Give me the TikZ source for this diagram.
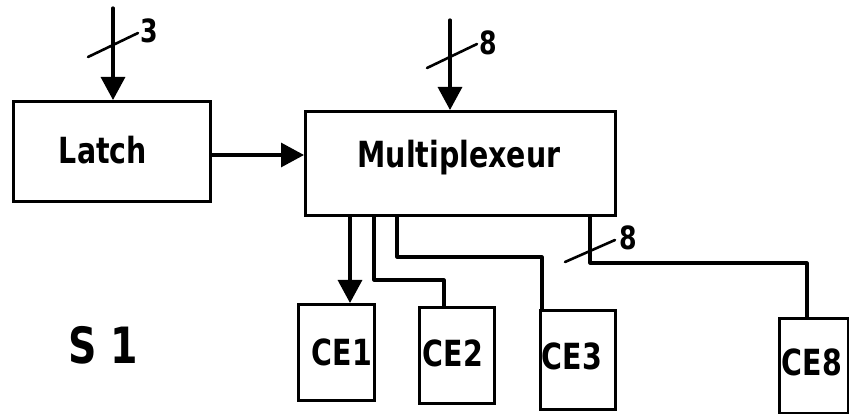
\documentclass[tikz,border=0pt]{standalone}
\usepackage{fontspec}
\newfontfamily\lbl[FakeStretch=0.79]{DejaVu Sans}
\usetikzlibrary{arrows.meta}
\begin{document}
\begin{tikzpicture}[x=1pt,y=-1pt,
  wire/.style={line width=3.2pt, line cap=round, line join=round},
  arr/.style={wire, -{Triangle[length=23pt,width=24pt]}},
  blk/.style={draw, line width=3.2pt, inner sep=0pt, anchor=north west},
  txt/.style={font=\lbl\bfseries\fontsize{36}{36}\selectfont, inner sep=0pt},
  num/.style={font=\lbl\bfseries\fontsize{32}{32}\selectfont, inner sep=0pt},
  busmark/.style={line width=2.6pt, line cap=round}]
\useasboundingbox (0,0) rectangle (849,414);
% blocks
\node[blk, minimum width=197pt, minimum height=100pt] (latch) at (12,100) {};
\node[blk, minimum width=310pt, minimum height=104pt] (mux) at (304,110) {};
\node[blk, minimum width=76pt, minimum height=96pt] (ce1) at (297,303) {};
\node[blk, minimum width=75pt, minimum height=96pt] (ce2) at (418,306) {};
\node[blk, minimum width=75pt, minimum height=99pt] (ce3) at (539,309) {};
\node[blk, minimum width=69pt, minimum height=95pt] (ce8) at (778,317) {};
% texts
\node[txt] (tlatch) at (103,150) {Latch};
\node[txt] (tmux) at (459,158) {Multiplexeur};
\node[txt] (t1) at (342,352) {CE1};
\node[txt] (t2) at (453,353) {CE2};
\node[txt] (t3) at (572,356) {CE3};
\node[txt] (t8) at (812,362) {CE8};
\node[txt, font=\lbl\bfseries\fontsize{50}{50}\selectfont] (s1) at (103,345) {S 1};
% inputs
\coordinate (in3) at (113,8);
\draw[arr] (in3) -- (in3 |- latch.north);
\coordinate (s3a) at (88,57);
\coordinate (s3b) at (138,33);
\draw[busmark] (s3a) -- (s3b);
\node[num] (n3) at (149,31) {3};
\coordinate (in8) at (450,20);
\draw[arr] (in8) -- (in8 |- mux.north);
\coordinate (s8a) at (427,68);
\coordinate (s8b) at (477,44);
\draw[busmark] (s8a) -- (s8b);
\node[num] (n8) at (488,43) {8};
% latch to mux
\draw[arr] (latch.east |- 0,155) -- (mux.west |- 0,155);
% outputs
\coordinate (o1) at (350,0);
\draw[arr] (o1 |- mux.south) -- (o1 |- ce1.north);
\coordinate (o2) at (374,280);
\coordinate (o2b) at (444,280);
\draw[wire] (o2 |- mux.south) -- (o2) -- (o2b) -- (o2b |- ce2.north);
\coordinate (o3) at (397,257);
\coordinate (o3b) at (542,257);
\draw[wire] (o3 |- mux.south) -- (o3) -- (o3b) -- (o3b |- ce3.north);
\coordinate (o8) at (590,263);
\coordinate (o8b) at (807,263);
\draw[wire] (o8 |- mux.south) -- (o8) -- (o8b) -- (o8b |- ce8.north);
\coordinate (s9a) at (565,262);
\coordinate (s9b) at (615,240);
\draw[busmark] (s9a) -- (s9b);
\node[num] (n9) at (628,238) {8};
\end{tikzpicture}
\end{document}
